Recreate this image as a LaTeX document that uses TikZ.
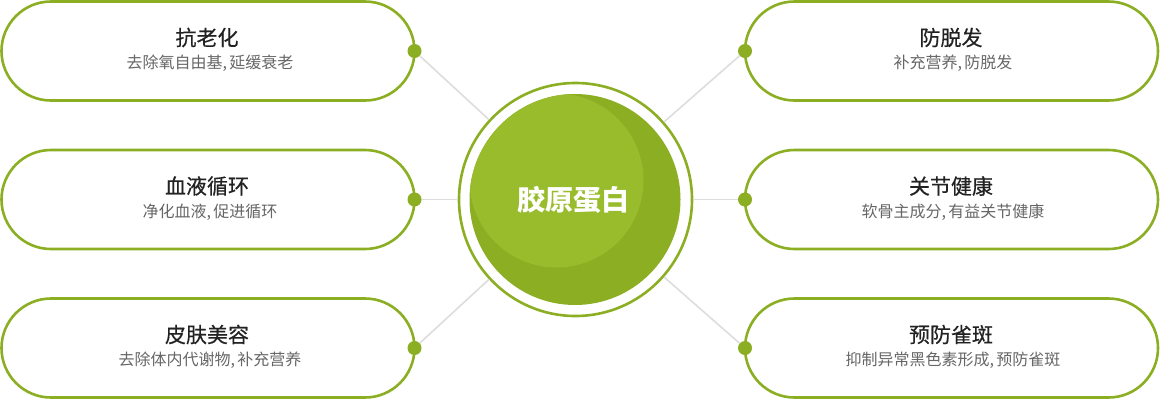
\documentclass[tikz,border=0pt]{standalone}
\usepackage{fontspec}
\setmainfont{Noto Sans CJK SC}
\newfontfamily\titlefont[FakeBold=0.5]{Noto Sans CJK SC}
\usepackage{tikz}
\usetikzlibrary{positioning}

\definecolor{leaf}{HTML}{8BAE22}
\definecolor{leaflight}{HTML}{99BC2D}
\definecolor{linkgray}{HTML}{DDDDDD}
\definecolor{titlegray}{HTML}{222222}
\definecolor{subgray}{HTML}{666666}

\newcommand{\cm}{,\hspace{2.5pt}}

\begin{document}
\begin{tikzpicture}[x=1pt, y=-1pt,
    pill/.style={draw=leaf, line width=2.6pt, rectangle, rounded corners=49.5pt,
                 minimum width=413pt, minimum height=99pt, inner sep=0pt},
    dot/.style={circle, fill=leaf, minimum size=14pt, inner sep=0pt},
    link/.style={draw=linkgray, line width=1.6pt},
    title/.style={text=titlegray, font=\titlefont\fontsize{21}{23}\selectfont, inner sep=0pt},
    sub/.style={text=subgray, font=\fontsize{16}{18}\selectfont, inner sep=0pt}]
          \useasboundingbox (0,0) rectangle (1160,400);

          % Mitte
          \node[draw=leaf, line width=2.6pt, circle, minimum size=233pt, inner sep=0pt] (core) at (575.5,199.5) {};
          \fill[leaf] (575,199.5) circle (105.5pt);
          \begin{scope}
            \clip (575,199.5) circle (105.5pt);
            \fill[leaflight] (556.5,180.5) circle (87pt);
          \end{scope}
          \node[text=white, font=\fontsize{28}{30}\selectfont\bfseries] (coretext) at (573,200) {胶原蛋白};

          % Links
          \node[pill] (aging) at (208,51) {};
          \node[pill] (blood) at (208,199.5) {};
          \node[pill] (skin) at (208,348) {};
          \node[title] (agingt) at (207,37.5) {抗老化};
          \node[sub] (agings) at (210,63.5) {去除氧自由基\cm 延缓衰老};
          \node[title] (bloodt) at (207,186) {血液循环};
          \node[sub] (bloods) at (210,212) {净化血液\cm 促进循环};
          \node[title] (skint) at (207,334.5) {皮肤美容};
          \node[sub] (skins) at (210,360.5) {去除体内代谢物\cm 补充营养};
          \node[dot] (agingd) at (414.5,51) {};
          \node[dot] (bloodd) at (414.5,199.5) {};
          \node[dot] (skind) at (414.5,348) {};

          % Rechts
          \node[pill] (hair) at (951.5,51) {};
          \node[pill] (joint) at (951.5,199.5) {};
          \node[pill] (spot) at (951.5,348) {};
          \node[title] (hairt) at (951,37.5) {防脱发};
          \node[sub] (hairs) at (953,63.5) {补充营养\cm 防脱发};
          \node[title] (jointt) at (951,186) {关节健康};
          \node[sub] (joints) at (953,212) {软骨主成分\cm 有益关节健康};
          \node[title] (spott) at (951,334.5) {预防雀斑};
          \node[sub] (spots) at (953,360.5) {抑制异常黑色素形成\cm 预防雀斑};
          \node[dot] (haird) at (745,51) {};
          \node[dot] (jointd) at (745,199.5) {};
          \node[dot] (spotd) at (745,348) {};

          % Verbindungen
          \draw[link] (agingd) -- (core);
          \draw[link] (bloodd) -- (core);
          \draw[link] (skind) -- (core);
          \draw[link] (haird) -- (core);
          \draw[link] (jointd) -- (core);
          \draw[link] (spotd) -- (core);
        \end{tikzpicture}
\end{document}
